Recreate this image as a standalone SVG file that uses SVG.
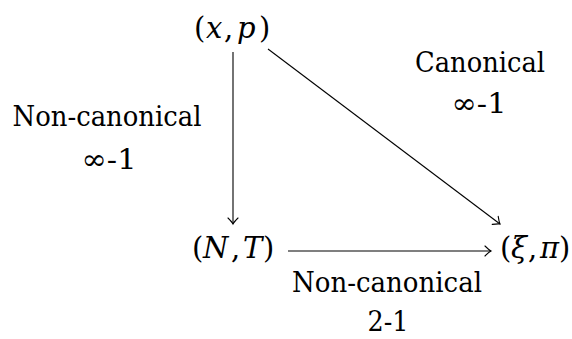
<svg xmlns="http://www.w3.org/2000/svg" width="572" height="339" viewBox="0 0 572 339">
<style>
text{font-family:'DejaVu Serif','Liberation Serif',serif;fill:#000}
.t{font-size:28px;text-anchor:middle}
.m{font-size:29px}
.i{font-style:italic}
.e{stroke:#000;stroke-width:1.1;fill:none}
</style>
<defs>
<marker id="ah" markerUnits="userSpaceOnUse" markerWidth="14" markerHeight="14" viewBox="-8 -7 10 14" refX="0" refY="0" orient="auto">
<path d="M -6 -5 Q -2 -1 0 0 Q -2 1 -6 5" fill="none" stroke="#000" stroke-width="1.1" stroke-linecap="round"/>
</marker>
</defs>
<rect width="572" height="339" fill="#fff"/>
<g id="edges">
<line class="e" x1="233" y1="52" x2="233" y2="224" marker-end="url(#ah)"/>
<line class="e" x1="268" y1="49" x2="500" y2="224" marker-end="url(#ah)"/>
<line class="e" x1="288" y1="251" x2="491" y2="251" marker-end="url(#ah)"/>
</g>
<g id="node-xp"><text class="m" y="38"><tspan x="194">(</tspan><tspan class="i" x="206">x</tspan><tspan x="224">,</tspan><tspan class="i" x="237">p</tspan><tspan x="259">)</tspan></text></g>
<g id="node-NT"><text class="m" y="258"><tspan x="192">(</tspan><tspan class="i" x="203">N</tspan><tspan x="231">,</tspan><tspan class="i" x="243">T</tspan><tspan x="263">)</tspan></text></g>
<g id="node-xipi"><text class="m" y="258"><tspan x="500">(</tspan><tspan class="i" x="511">ξ</tspan><tspan x="528">,</tspan><tspan class="i" x="540">π</tspan><tspan x="559">)</tspan></text></g>
<g id="label-left">
<text class="t" x="107" y="126" textLength="189" lengthAdjust="spacingAndGlyphs">Non-canonical</text>
<text class="t" x="109" y="169" textLength="55" lengthAdjust="spacingAndGlyphs">∞-1</text>
</g>
<g id="label-right">
<text class="t" x="480" y="72" textLength="130" lengthAdjust="spacingAndGlyphs">Canonical</text>
<text class="t" x="479" y="113" textLength="55" lengthAdjust="spacingAndGlyphs">∞-1</text>
</g>
<g id="label-bottom">
<text class="t" x="387" y="292" textLength="190" lengthAdjust="spacingAndGlyphs">Non-canonical</text>
<text class="t" x="388" y="331" textLength="41" lengthAdjust="spacingAndGlyphs">2-1</text>
</g>
</svg>
